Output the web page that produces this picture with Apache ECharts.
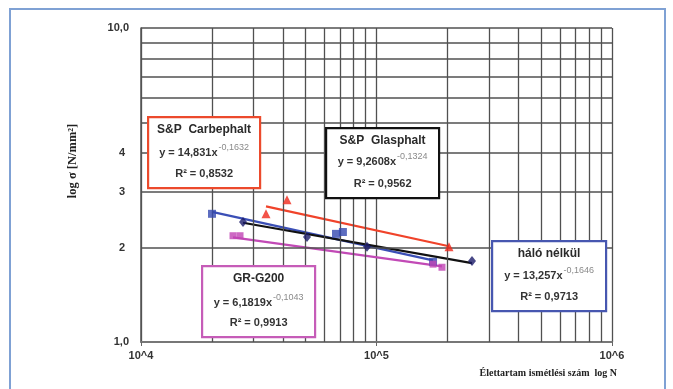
<!DOCTYPE html>
<html>
<head>
<meta charset="utf-8">
<script src="https://cdn.jsdelivr.net/npm/echarts@6/dist/echarts.min.js"></script>
<style>
  html, body { margin: 0; padding: 0; background: #fff; }
  #chart { width: 673px; height: 389px; }
</style>
</head>
<body>
<div id="chart"></div>
<script>
// Fatigue tests: load repetitions N (log) against stress σ [N/mm²] (log)

// S&P Carbephalt
const carbN = [33950, 41690, 203200];
const carbS = [2.56, 2.84, 2.01];
// S&P Glasphalt
const glasN = [27110, 50680, 91130, 254400];
const glasS = [2.41, 2.16, 2.01, 1.81];
// háló nélkül
const haloN = [20020, 67300, 72000, 173800];
const haloS = [2.56, 2.21, 2.24, 1.80];
// GR-G200
const grN = [24590, 26330, 173800, 189700];
const grS = [2.18, 2.18, 1.77, 1.73];

// power-law fits y = a·x^b printed in the boxes
const fitNames = ['S&P  Carbephalt', 'S&P  Glasphalt', 'GR-G200', 'háló nélkül'];
const fitA = [14.831, 9.2608, 6.1819, 13.257];
const fitB = [-0.1632, -0.1324, -0.1043, -0.1646];
const fitR2 = [0.8532, 0.9562, 0.9913, 0.9713];

// grid lines inside each decade
const xMinorGrid = [2e4, 3e4, 4e4, 5e4, 6e4, 7e4, 8e4, 9e4, 2e5, 3e5, 4e5, 5e5, 6e5, 7e5, 8e5, 9e5];
const yMinorGrid = [2, 3, 4, 5, 6, 7, 8, 9];
const yLabelled = [2, 3, 4];

const pairs = (xs, ys) => xs.map((x, i) => [x, ys[i]]);
const comma = v => String(v).replace('.', ',');
function trend(i, xs) {
  const lo = Math.min(...xs), hi = Math.max(...xs);
  return [[lo, fitA[i] * Math.pow(lo, fitB[i])], [hi, fitA[i] * Math.pow(hi, fitB[i])]];
}

const gridColor = '#505050';
const sansBold = 'bold 11px "Liberation Sans", Arial, sans-serif';

function fitBox(i, x, y, w, h, color, ys) {
  return {
    type: 'group', left: x, top: y, z: 100,
    children: [
      { type: 'rect', z: 100, shape: { x: 0, y: 0, width: w, height: h },
        style: { fill: '#fff', stroke: color, lineWidth: 2.2 } },
      { type: 'text', z: 101, x: w / 2, y: ys[0],
        style: { text: fitNames[i], align: 'center', verticalAlign: 'middle',
                 font: 'bold 12px "Liberation Sans", Arial, sans-serif', fill: '#2a2a2a' } },
      { type: 'text', z: 101, x: w / 2, y: ys[1],
        style: { text: 'y = ' + comma(fitA[i]) + 'x{s|' + comma(fitB[i]) + '}',
                 align: 'center', verticalAlign: 'middle',
                 font: sansBold, fill: '#333',
                 rich: { s: { fontSize: 9, fontWeight: 'normal', fontFamily: '"Liberation Sans", Arial',
                              fill: '#8a8a8a', padding: [0, 0, 11, 1] } } } },
      { type: 'text', z: 101, x: w / 2, y: ys[2],
        style: { text: 'R² = ' + comma(fitR2[i]), align: 'center', verticalAlign: 'middle',
                 font: sansBold, fill: '#333' } }
    ]
  };
}

const chart = echarts.init(document.getElementById('chart'), null, { renderer: 'canvas' });

chart.setOption({
  animation: false,
  backgroundColor: '#fff',
  grid: { left: 141, top: 28, width: 471, height: 314, containLabel: false },
  xAxis: {
    type: 'log', logBase: 10, min: 1e4, max: 1e6,
    axisLine: { show: true, lineStyle: { color: '#777', width: 2 } },
    axisTick: { show: true, length: 4, lineStyle: { color: '#666' } },
    axisLabel: {
      margin: 8, color: '#333', fontSize: 11, fontWeight: 'bold',
      fontFamily: '"Liberation Sans", Arial, sans-serif',
      formatter: v => '10^' + Math.round(Math.log10(v))
    },
    splitLine: { show: true, lineStyle: { color: gridColor, width: 1.3 } }
  },
  yAxis: {
    type: 'log', logBase: 10, min: 1, max: 10,
    axisLine: { show: true, lineStyle: { color: '#555', width: 1.5 } },
    axisTick: { show: false },
    axisLabel: {
      margin: 12, color: '#333', fontSize: 11, fontWeight: 'bold',
      fontFamily: '"Liberation Sans", Arial, sans-serif',
      formatter: v => (v >= 10 ? '10,0' : (v <= 1 ? '1,0' : ''))
    },
    splitLine: { show: true, lineStyle: { color: gridColor, width: 1.5 } }
  },
  series: [
    {
      // minor grid of the log-log paper
      type: 'line', data: [], z: 1, silent: true,
      markLine: {
        silent: true, symbol: ['none', 'none'], animation: false,
        label: { show: false },
        lineStyle: { color: gridColor, width: 1.3, type: 'solid' },
        emphasis: { disabled: true },
        data: xMinorGrid.map(v => ({ xAxis: v }))
          .concat(yMinorGrid.map(v => ({
            yAxis: v,
            lineStyle: { color: gridColor, width: 1.5, type: 'solid' },
            label: {
              show: yLabelled.indexOf(v) >= 0, position: 'start', distance: 16,
              formatter: String(v), color: '#333', fontSize: 11, fontWeight: 'bold',
              fontFamily: '"Liberation Sans", Arial, sans-serif'
            }
          })))
      }
    },
    { name: 'háló nélkül fit', type: 'line', z: 3, showSymbol: false, symbol: 'none',
      data: trend(3, haloN), lineStyle: { color: '#3b4fb6', width: 2.2 } },
    { name: 'S&P Glasphalt fit', type: 'line', z: 4, showSymbol: false, symbol: 'none',
      data: trend(1, glasN), lineStyle: { color: '#111', width: 2.2 } },
    { name: 'GR-G200 fit', type: 'line', z: 3, showSymbol: false, symbol: 'none',
      data: trend(2, grN), lineStyle: { color: '#c24ab6', width: 2.2 } },
    { name: 'S&P Carbephalt fit', type: 'line', z: 3, showSymbol: false, symbol: 'none',
      data: trend(0, carbN), lineStyle: { color: '#f0432a', width: 2.2 } },

    { name: 'háló nélkül', type: 'scatter', z: 5, symbol: 'rect', symbolSize: 8,
      data: pairs(haloN, haloS), itemStyle: { color: '#3448b0' } },
    { name: 'S&P Glasphalt', type: 'scatter', z: 6, symbol: 'diamond', symbolSize: [8, 10],
      data: pairs(glasN, glasS), itemStyle: { color: '#1b1b6a' } },
    { name: 'GR-G200', type: 'scatter', z: 5, symbol: 'rect', symbolSize: 7,
      data: pairs(grN, grS), itemStyle: { color: '#c044b4' } },
    { name: 'S&P Carbephalt', type: 'scatter', z: 5, symbol: 'triangle', symbolSize: 9,
      data: pairs(carbN, carbS), itemStyle: { color: '#f0281a' } }
  ],
  graphic: [
    { type: 'rect', z: 0, shape: { x: 10, y: 9, width: 655, height: 400 },
      style: { fill: 'none', stroke: '#7fa1d4', lineWidth: 2 } },
    { type: 'text', z: 50, x: 73, y: 161, rotation: Math.PI / 2,
      style: { text: 'log σ [N/mm²]', align: 'center', verticalAlign: 'middle',
               font: 'bold 12.5px "Liberation Serif", "Times New Roman", serif', fill: '#222' } },
    { type: 'text', z: 50, x: 617, y: 373,
      style: { text: 'Élettartam ismétlési szám  log N', align: 'right', verticalAlign: 'middle',
               font: 'bold 10px "Liberation Serif", "Times New Roman", serif', fill: '#222' } },
    fitBox(0, 147, 116, 112, 71, '#ec4a2c', [13, 36, 57]),
    fitBox(1, 325, 127, 113, 70, '#111', [13, 34, 56]),
    fitBox(2, 201, 265, 113, 71, '#c65cb8', [13, 37, 57]),
    fitBox(3, 491, 240, 114, 70, '#4757b0', [13, 35, 56])
  ]
});
</script>
</body>
</html>
